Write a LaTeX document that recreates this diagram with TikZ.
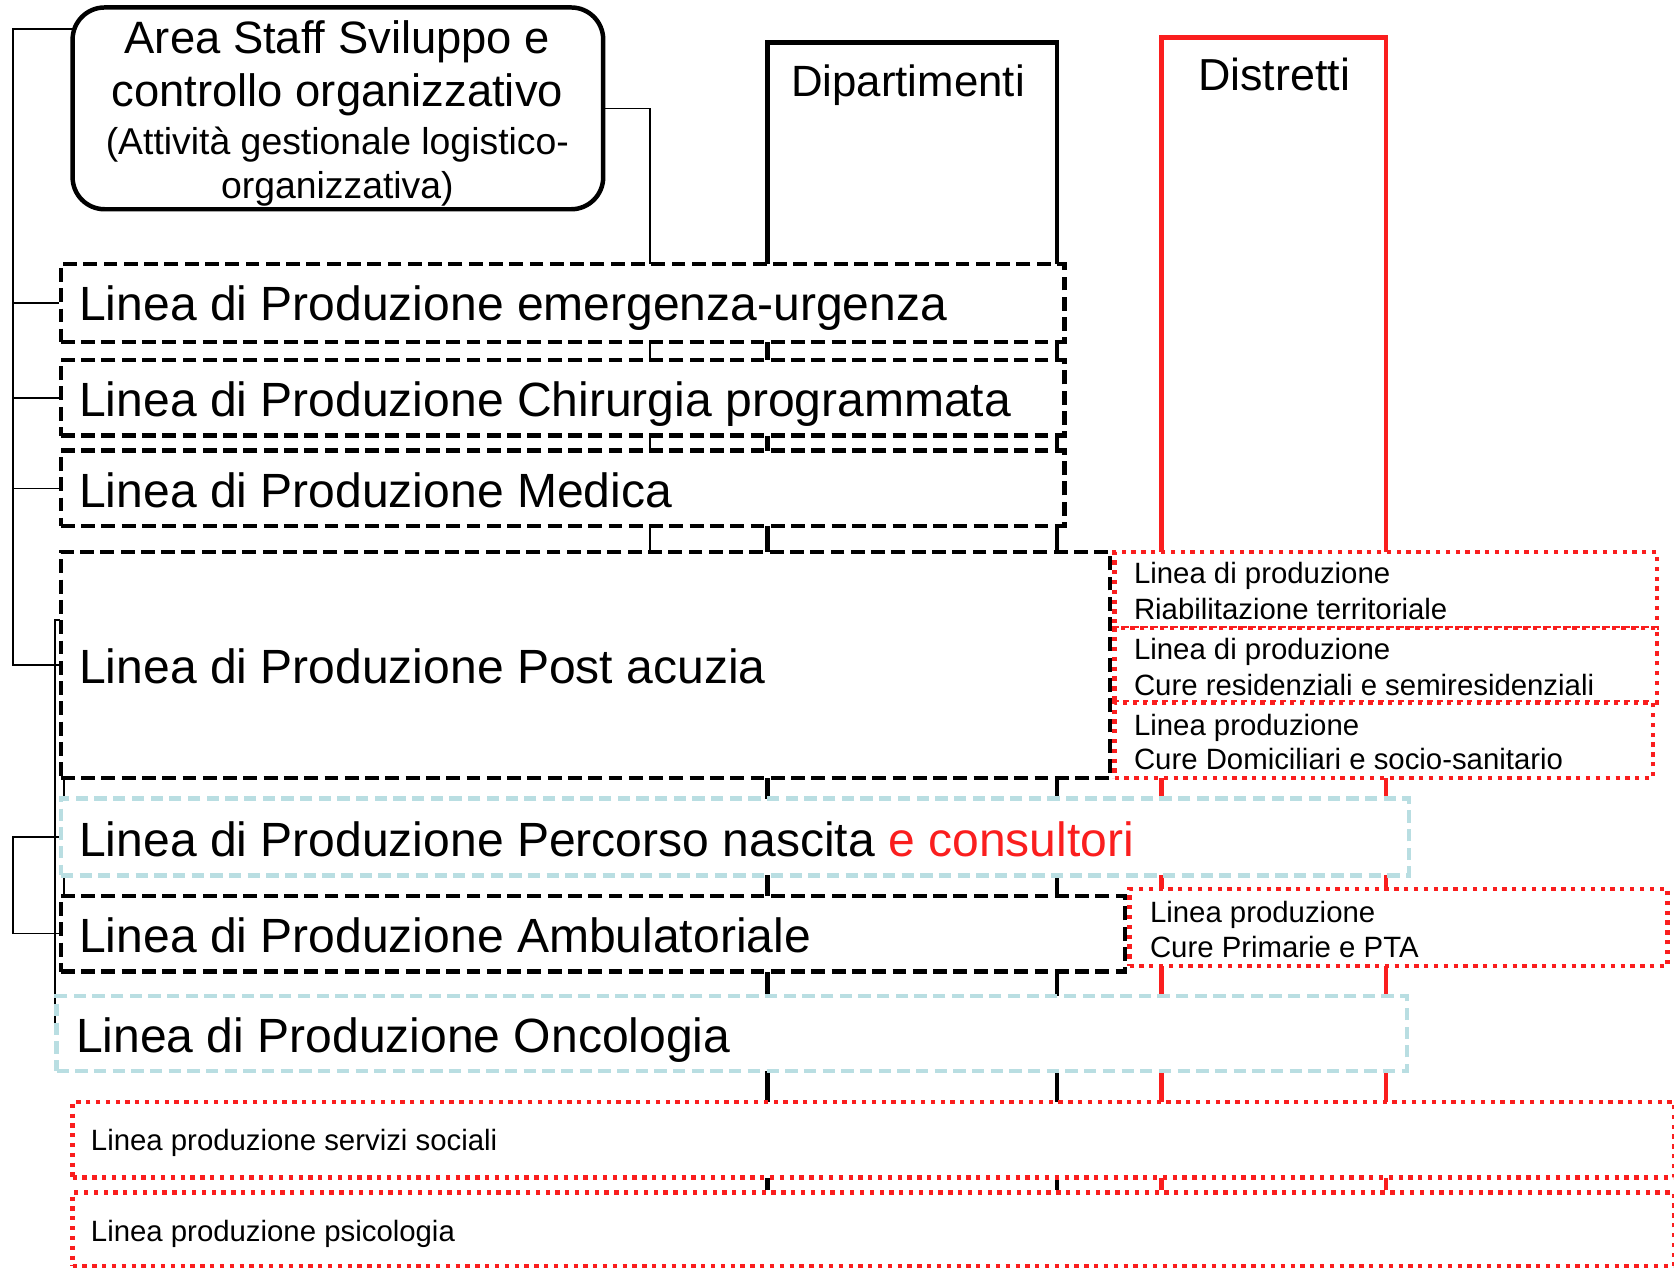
\documentclass[tikz,border=0pt]{standalone}
\usepackage{fontspec}
\setmainfont{Liberation Sans}
\usetikzlibrary{fit}
\definecolor{myred}{RGB}{250,30,30}
\definecolor{mycyan}{RGB}{185,222,226}
\newcommand\fsBig{\fontsize{45}{54}\selectfont}
\newcommand\fsSmall{\fontsize{27.5}{33}\selectfont}
\newcommand\fsArea{\fontsize{42.5}{50}\selectfont}
\newcommand\fsAreaS{\fontsize{35}{42}\selectfont}
\newcommand\fsDip{\fontsize{41}{48}\selectfont}
\newcommand\fsDis{\fontsize{42}{48}\selectfont}
\pgfdeclarelayer{bg}
\pgfsetlayers{bg,main}
\begin{document}
\begin{tikzpicture}[x=1pt,y=-1pt,
  conn/.style={draw=black, line width=1.6pt},
  dipline/.style={draw=black, line width=4.2pt},
  disline/.style={draw=myred, line width=4.2pt},
  areabox/.style={draw=black, line width=4.2pt, rounded corners=30pt, fill=white, inner sep=0pt},
  bbox/.style={draw=black, line width=4pt, dash pattern=on 13pt off 6pt, fill=white, inner sep=0pt},
  cbox/.style={draw=mycyan, line width=4pt, dash pattern=on 11.5pt off 6pt, fill=white, inner sep=0pt},
  rbox/.style={draw=myred, line width=4pt, dash pattern=on 4pt off 5.2pt, fill=white, inner sep=0pt},
  bigtxt/.style={font=\fsBig, inner sep=0pt, anchor=base west},
  smalltxt/.style={font=\fsSmall, inner sep=0pt, anchor=base west},
  areatxt/.style={font=\fsArea, inner sep=0pt, anchor=base},
  areatxts/.style={font=\fsAreaS, inner sep=0pt, anchor=base}
]
\useasboundingbox (0,0) rectangle (1568,1188);

% boxes
\node[areabox, fit={(68,7) (565,196)}] (area) {};
\node[bbox, fit={(57,247) (997,320)}] (emerg) {};
\node[bbox, fit={(57,337) (997,408)}] (chir) {};
\node[bbox, fit={(57,422) (997,493)}] (med) {};
\node[bbox, fit={(57,517) (1040,729)}] (post) {};
\node[rbox, fit={(1044,517) (1552,588)}] (riab) {};
\node[rbox, fit={(1044,588) (1552,658)}] (resid) {};
\node[rbox, fit={(1044,658) (1548,729)}] (domic) {};
\node[cbox, fit={(57,748) (1320,820)}] (perc) {};
\node[bbox, fit={(57,839) (1054,910)}] (amb) {};
\node[rbox, fit={(1058,833) (1562,905)}] (pta) {};
\node[cbox, fit={(53,933) (1318,1003)}] (onco) {};
\node[rbox, fit={(68,1032) (1568,1103)}] (soc) {};
\node[rbox, fit={(68,1117) (1568,1186)}] (psi) {};

% connectors and columns behind the boxes
\begin{pgfonlayer}{bg}
  \coordinate (dipTL) at (719,40);
  \coordinate (dipTR) at (990,40);
  \draw[dipline] (dipTL |- psi.north) -- (dipTL) -- (dipTR) -- (dipTR |- psi.north);
  \coordinate (disTL) at (1088,35);
  \coordinate (disTR) at (1298,35);
  \draw[disline] (disTL |- psi.north) -- (disTL) -- (disTR) -- (disTR |- psi.north);
  \coordinate (staffX) at (609,0);
  \draw[conn] (area.east) -| (staffX |- post.north);
  \coordinate (busX) at (12,27);
  \coordinate (areaL) at (70,27);
  \draw[conn] (areaL) -- (busX) |- (post.west);
  \draw[conn] (busX |- emerg.west) -- (emerg.west);
  \draw[conn] (busX |- chir.west) -- (chir.west);
  \draw[conn] (busX |- med.west) -- (med.west);
  \draw[conn] (perc.west) -- (busX |- perc.west) |- (amb.west);
  \coordinate (vHook) at (56,581);
  \coordinate (vTop) at (51.5,581);
  \coordinate (vBot) at (51.5,966);
  \draw[conn] (vHook) -- (vTop) -- (vBot);
  \coordinate (tA) at (60,729);
  \coordinate (tB) at (60,839);
  \draw[conn] (tA) -- (tB);
\end{pgfonlayer}

% texts
\node[areatxt] (a1) at (316,50) {Area Staff Sviluppo e};
\node[areatxt] (a2) at (316,100) {controllo organizzativo};
\node[areatxts] (a3) at (316,145) {(Attività gestionale logistico-};
\node[areatxts] (a4) at (316,186) {organizzativa)};
\node[font=\fsDip, inner sep=0pt, anchor=base] (tdip) at (850.5,90) {Dipartimenti};
\node[font=\fsDis, inner sep=0pt, anchor=base] (tdis) at (1193.5,85) {Distretti};

\node[bigtxt] (temerg) at (74,300) {Linea di Produzione emergenza-urgenza};
\node[bigtxt] (tchir) at (74,390) {Linea di Produzione Chirurgia programmata};
\node[bigtxt] (tmed) at (74,475) {Linea di Produzione Medica};
\node[bigtxt] (tpost) at (74,640) {Linea di Produzione Post acuzia};
\node[bigtxt] (tperc) at (74,802) {Linea di Produzione Percorso nascita \textcolor{myred}{e consultori}};
\node[bigtxt] (tamb) at (74,892) {Linea di Produzione Ambulatoriale};
\node[bigtxt] (tonco) at (71,986) {Linea di Produzione Oncologia};

\node[smalltxt] (triab1) at (1062,547) {Linea di produzione};
\node[smalltxt] (triab2) at (1062,580) {Riabilitazione territoriale};
\node[smalltxt] (tres1) at (1062,618) {Linea di produzione};
\node[smalltxt] (tres2) at (1062,651) {Cure residenziali e semiresidenziali};
\node[smalltxt] (tdom1) at (1062,689) {Linea produzione};
\node[smalltxt] (tdom2) at (1062,721) {Cure Domiciliari e socio-sanitario};
\node[smalltxt] (tpta1) at (1077,864) {Linea produzione};
\node[smalltxt] (tpta2) at (1077,897) {Cure Primarie e PTA};
\node[smalltxt] (tsoc) at (85,1078) {Linea produzione servizi sociali};
\node[smalltxt] (tpsi) at (85,1163) {Linea produzione psicologia};
\end{tikzpicture}
\end{document}
